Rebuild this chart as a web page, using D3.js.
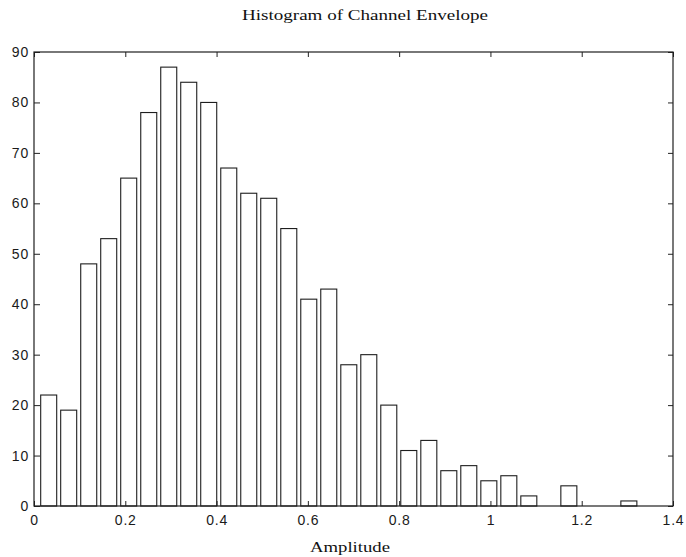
<!DOCTYPE html>
<html>
<head>
<meta charset="utf-8">
<script src="https://cdn.jsdelivr.net/npm/d3@7"></script>
<style>
  body { margin: 0; background: #fff; }
  svg { display: block; }
  .tick text { font-family: "Liberation Sans", Arial, sans-serif; font-size: 14px; fill: #1a1a1a; letter-spacing: 0.8px; }
  .tick line { stroke: #222; }
  .domain { display: none; }
</style>
</head>
<body>
<svg id="chart" width="686" height="557"></svg>
<script>
'use strict'

// bin centres (Amplitude) and counts
const binCenters = [0.0322, 0.0760, 0.1199, 0.1637, 0.2075, 0.2514, 0.2952, 0.3390, 0.3828, 0.4267,
  0.4705, 0.5143, 0.5582, 0.6020, 0.6458, 0.6897, 0.7335, 0.7773, 0.8211, 0.8650,
  0.9088, 0.9526, 0.9965, 1.0403, 1.0841, 1.1280, 1.1718, 1.2156, 1.2594, 1.3033]
const counts = [22, 19, 48, 53, 65, 78, 87, 84, 80, 67,
  62, 61, 55, 41, 43, 28, 30, 20, 11, 13,
  7, 8, 5, 6, 2, 0, 4, 0, 0, 1]
const xTicks = [0, 0.2, 0.4, 0.6, 0.8, 1, 1.2, 1.4]
const yTicks = [0, 10, 20, 30, 40, 50, 60, 70, 80, 90]
const binWidth = 0.04383
const barFrac = 0.8

const plot = {left: 34, right: 673, top: 52, bottom: 506}
const svg = d3.select('#chart')

const x = d3.scaleLinear().domain([0, 1.4]).range([plot.left, plot.right])
const y = d3.scaleLinear().domain([0, 90]).range([plot.bottom, plot.top])
const fmt = d3.format('~g')

// bars
const bw = x(binWidth * barFrac) - x(0)
svg.append('g')
  .selectAll('rect')
  .data(binCenters.map((c, i) => ({c, n: counts[i]})))
  .enter().append('rect')
  .attr('x', d => x(d.c) - bw / 2)
  .attr('y', d => y(d.n))
  .attr('width', bw)
  .attr('height', d => y(0) - y(d.n))
  .attr('fill', '#fff')
  .attr('stroke', '#1e1e1e')
  .attr('stroke-width', 1.1)

// axes with inward ticks (matlab style)
svg.append('g')
  .attr('transform', `translate(0,${plot.bottom})`)
  .call(d3.axisBottom(x).tickValues(xTicks).tickFormat(fmt).tickSizeInner(-5).tickSizeOuter(0).tickPadding(9))
svg.append('g')
  .attr('transform', `translate(0,${plot.top})`)
  .call(d3.axisTop(x).tickValues(xTicks).tickFormat('').tickSizeInner(-5).tickSizeOuter(0))
svg.append('g')
  .attr('transform', `translate(${plot.left},0)`)
  .call(d3.axisLeft(y).tickValues(yTicks).tickFormat(fmt).tickSizeInner(-6).tickSizeOuter(0).tickPadding(5))
svg.append('g')
  .attr('transform', `translate(${plot.right},0)`)
  .call(d3.axisRight(y).tickValues(yTicks).tickFormat('').tickSizeInner(-5).tickSizeOuter(0))

// frame
svg.append('rect')
  .attr('x', plot.left).attr('y', plot.top)
  .attr('width', plot.right - plot.left).attr('height', plot.bottom - plot.top)
  .attr('fill', 'none')
  .attr('stroke', '#1e1e1e')
  .attr('stroke-width', 1.2)

// title and x label
svg.append('text')
  .attr('x', 365).attr('y', 20)
  .attr('text-anchor', 'middle')
  .attr('font-family', '"Liberation Serif", "Times New Roman", serif')
  .attr('font-size', 15)
  .attr('textLength', 246)
  .attr('lengthAdjust', 'spacingAndGlyphs')
  .attr('fill', '#111')
  .text('Histogram of Channel Envelope')

svg.append('text')
  .attr('x', 350).attr('y', 552)
  .attr('text-anchor', 'middle')
  .attr('font-family', '"Liberation Serif", "Times New Roman", serif')
  .attr('font-size', 15)
  .attr('textLength', 80)
  .attr('lengthAdjust', 'spacingAndGlyphs')
  .attr('fill', '#111')
  .text('Amplitude')
</script>
</body>
</html>
